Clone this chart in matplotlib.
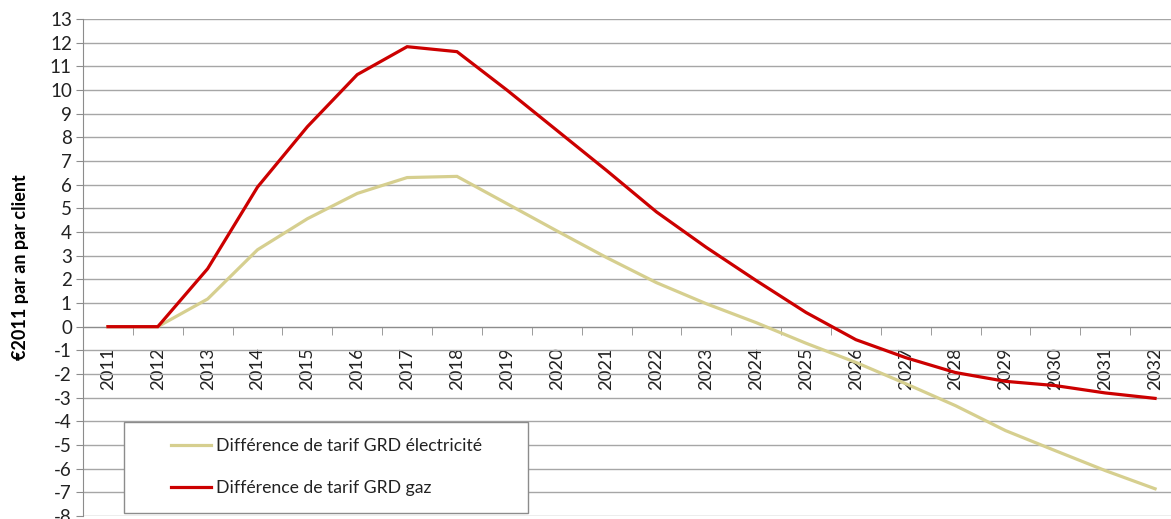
import matplotlib.pyplot as plt
from matplotlib.patches import Rectangle
from matplotlib.ticker import FixedLocator

plt.rcParams["font.family"] = ["Lato", "DejaVu Sans"]

YEARS = [str(y) for y in range(2011, 2033)]
ELEC = [0, 0, 1.17, 3.25, 4.56, 5.63, 6.3, 6.35, 5.2, 4.05, 2.92, 1.86,
        0.97, 0.17, -0.7, -1.51, -2.41, -3.34, -4.39, -5.24, -6.08, -6.85]
GAZ = [0, 0, 2.45, 5.9, 8.45, 10.65, 11.83, 11.62, 10.0, 8.3, 6.6, 4.85,
       3.35, 1.95, 0.6, -0.55, -1.31, -1.94, -2.31, -2.49, -2.8, -3.03]
LABELS = ["Différence de tarif GRD électricité", "Différence de tarif GRD gaz"]
COLORS = ["#d6cf8f", "#cc0000"]
YTICKS = list(range(-8, 14))

W, H = 1171, 519
fig = plt.figure(figsize=(W / 100, H / 100), dpi=100)
ax = fig.add_axes([83 / W, 3 / H, 1097 / W, 497 / H])

x = list(range(len(YEARS)))
lines = []
for vals, col, lab in zip([ELEC, GAZ], COLORS, LABELS):
    ln, = ax.plot(x, vals, color=col, linewidth=2.3, label=lab,
                  solid_joinstyle="miter", zorder=3)
    lines.append(ln)

ax.set_xlim(-0.5, len(YEARS) - 0.5)
ax.set_ylim(-8, 13)
ax.set_yticks(YTICKS)
ax.set_yticklabels([str(v) for v in YTICKS])
ax.yaxis.grid(True, color="#a6a6a6", linewidth=1)
ax.set_axisbelow(True)

ax.set_xticks(x)
ax.set_xticklabels(YEARS)
ax.xaxis.set_minor_locator(FixedLocator([i + 0.5 for i in x]))
ax.tick_params(axis="x", which="major", length=0, pad=15, labelrotation=90,
               labelsize=13.3, labelcolor="#222222")
ax.tick_params(axis="x", which="minor", length=6, color="#8c8c8c", direction="out")
ax.tick_params(axis="y", length=5, color="#8c8c8c", pad=3, labelsize=13.5,
               labelcolor="#222222")

for s in ["top", "right"]:
    ax.spines[s].set_visible(False)
ax.spines["left"].set_color("#8c8c8c")
ax.spines["bottom"].set_color("#8c8c8c")
ax.spines["bottom"].set_position(("data", 0))

fig.text(21 / W, 1 - 267 / H, "€2011 par an par client", rotation=90,
         fontsize=13, fontweight="bold", ha="center", va="center")

# legend box
fig.patches.append(Rectangle((124 / W, 1 - 513 / H), 404 / W, 91 / H,
                             transform=fig.transFigure, facecolor="white",
                             edgecolor="#8c8c8c", linewidth=1, zorder=5))
leg = fig.legend(handles=lines, loc="center left",
                 bbox_to_anchor=(155 / W, 1 - 467 / H), frameon=False,
                 fontsize=12.7, handlelength=2.3, handletextpad=0.25,
                 labelspacing=1.45)
leg.set_zorder(6)
for t in leg.get_texts():
    t.set_color("#222222")

fig.savefig("out.png", dpi=100)
